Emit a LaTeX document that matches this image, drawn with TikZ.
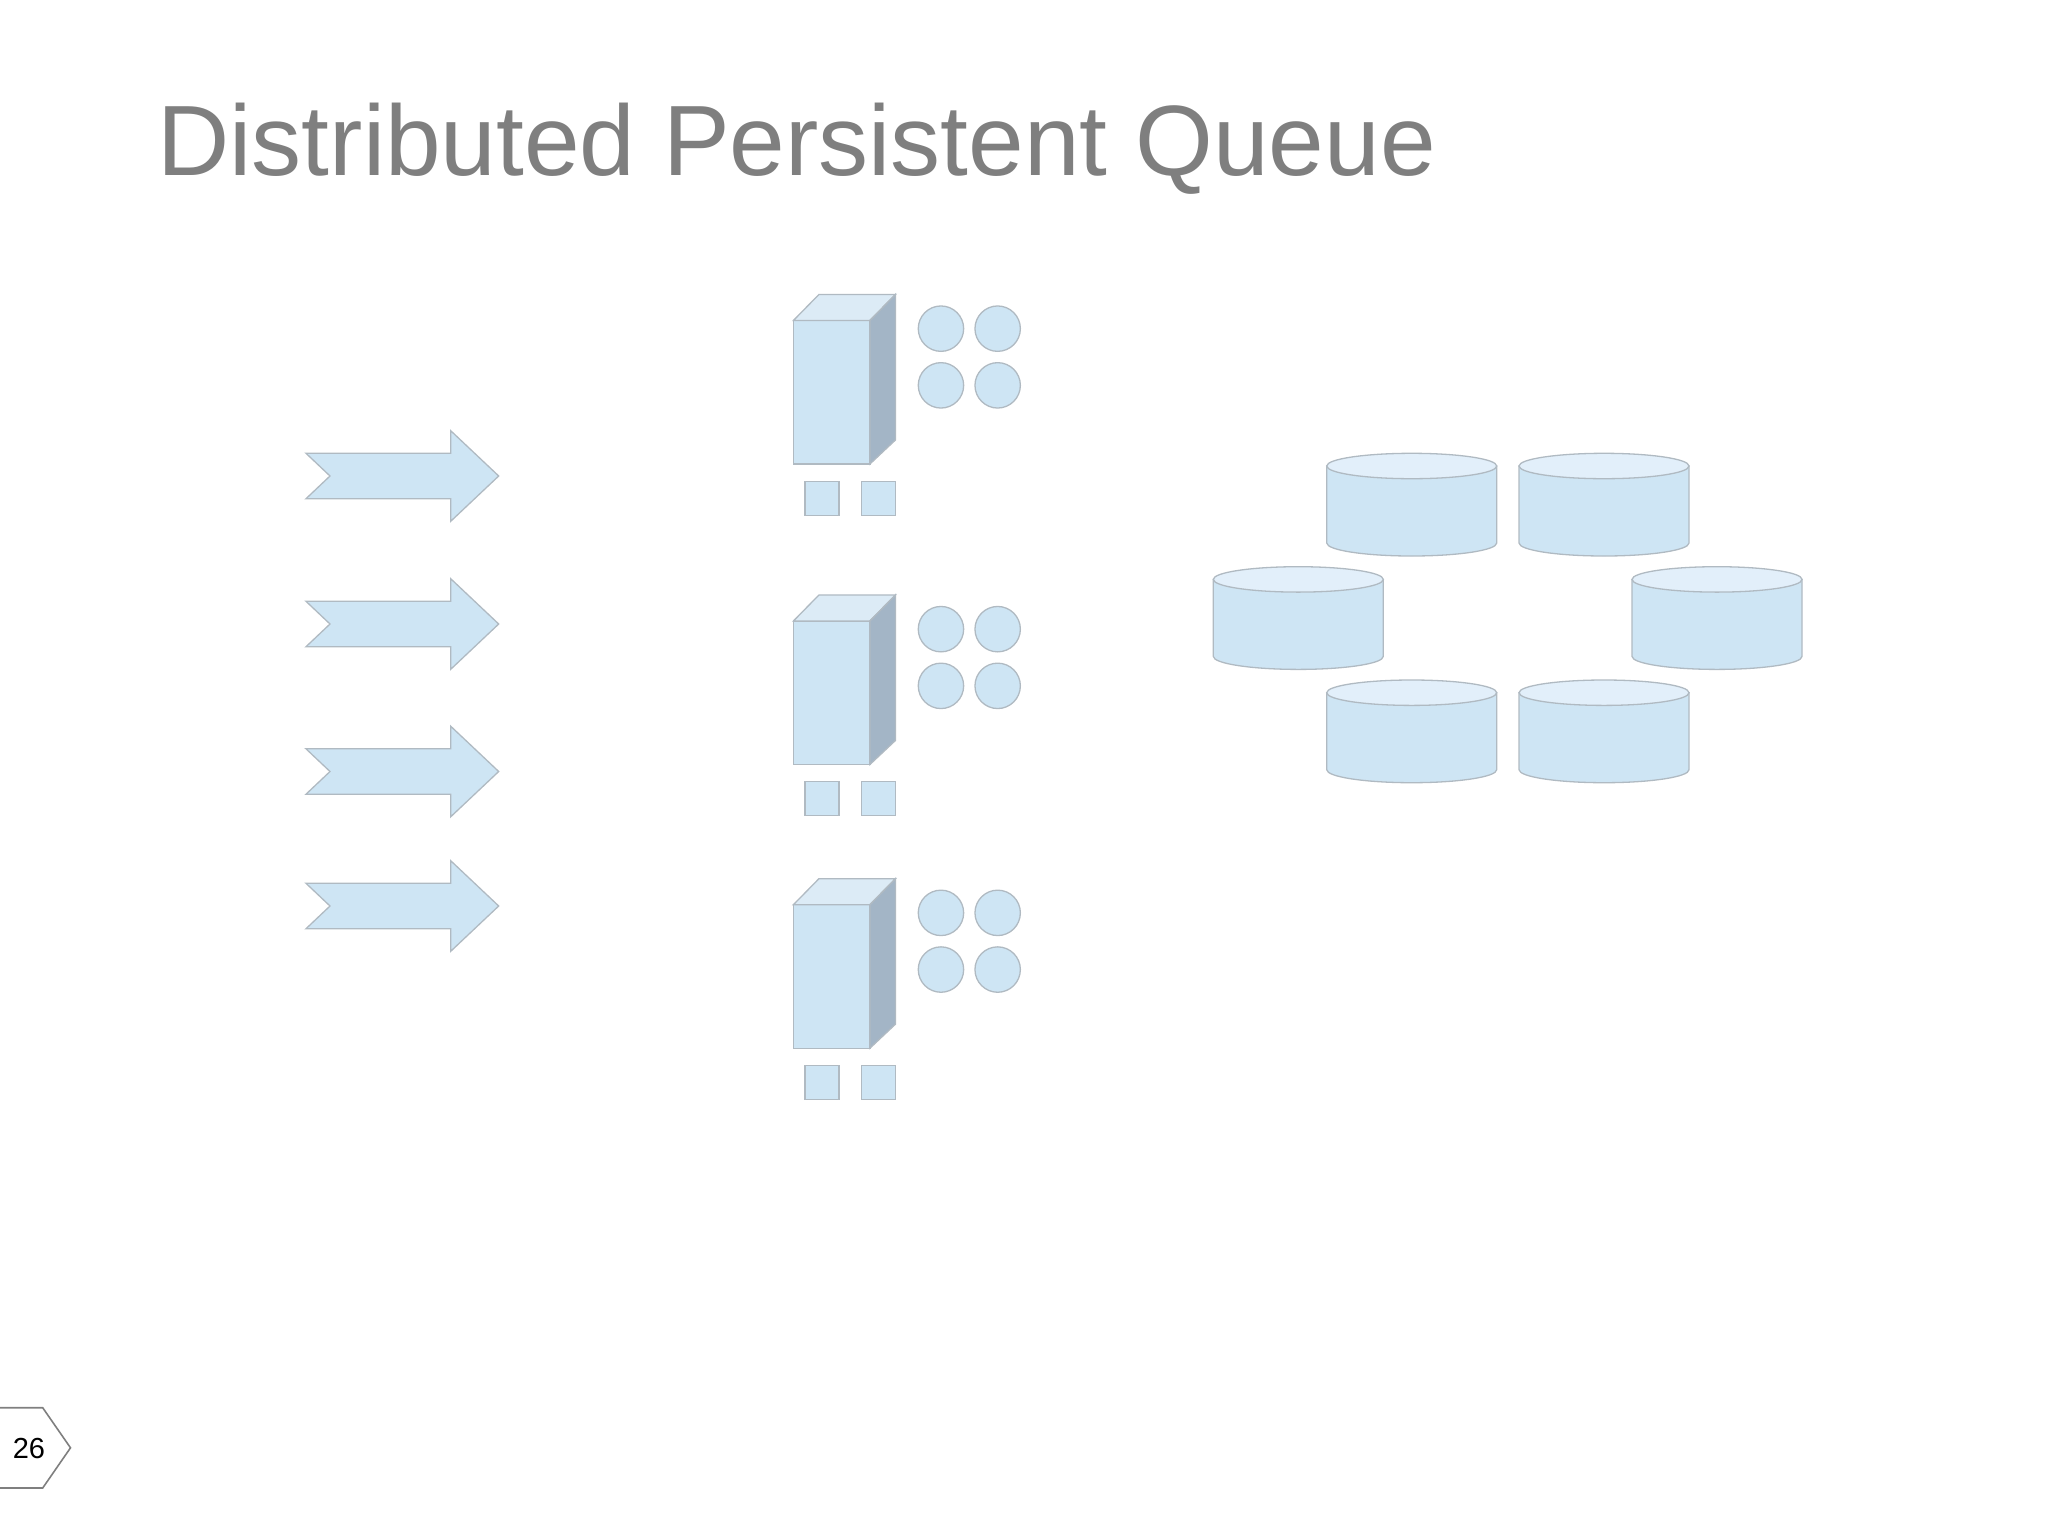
\documentclass[tikz,border=0pt]{standalone}
\usepackage{fontspec}
\setmainfont{Liberation Sans}
\usetikzlibrary{positioning,calc}
\definecolor{myblue}{RGB}{206,229,244}
\definecolor{mybluetop}{RGB}{220,235,246}
\definecolor{mybluelid}{RGB}{226,239,250}
\definecolor{myblueside}{RGB}{163,181,198}
\definecolor{myedge}{RGB}{176,186,194}
\definecolor{mygray}{RGB}{127,127,127}
\tikzset{
tikzslidepic/.style={
  x=.5pt,y=-.5pt
    ,inner sep=0pt
    ,outer sep=0pt
    ,node distance=5.65pt
    ,line join=miter
}
,title/.style={ anchor=base west, font=\fontsize{50pt}{54pt}\selectfont, color=mygray}
,bounder/.style={draw=myedge,line width=.65pt}
,front/.style={bounder,fill=myblue,minimum width=38.25pt,minimum height=71.75pt}
,lid/.style={bounder,fill=mybluetop}
,flank/.style={bounder,fill=myblueside}
,core/.style={bounder,fill=myblue,circle,minimum size=22.7pt}
,port/.style={bounder,fill=myblue,minimum size=17pt}
,disk/.style={bounder,fill=myblue}
,disklid/.style={bounder,fill=mybluelid}
,flow/.style={bounder,fill=myblue}
,pagebox/.style={draw=mygray,line width=.8pt}
}

\begin{document}
\begin{tikzpicture}[tikzslidepic]
  \useasboundingbox (0,0) rectangle (2048,1536);
  \node[title] (heading) at (157.5,175) {Distributed Persistent Queue};
  % producers
  \foreach \nm/\ay in {a/476,b/624,c/771.5,d/906}{
    \coordinate (arrow\nm) at (306,\ay);
    \draw[flow] (arrow\nm) ++(0,-22.7) -- ++(144.7,0) -- ++(0,-22.6) -- ++(48,45.3)
      -- ++(-48,45.3) -- ++(0,-22.6) -- ++(-144.7,0) -- ++(24,-22.7) -- cycle;
  }
  % servers
  \foreach \nm/\sy in {a/392.2,b/692.7,c/976.4}{
    \node[front] (srv\nm) at (831.7,\sy) {};
    \draw[lid] (srv\nm.north west) -- ++(25.5,-26) -- ++(76.5,0)
      -- (srv\nm.north east) -- cycle;
    \draw[flank] (srv\nm.north east) -- ++(25.5,-26) -- ++(0,145.5)
      -- (srv\nm.south east) -- cycle;
    \node[core] (core\nm i) at ($(srv\nm.north east)+(71,8.2)$) {};
    \node[core,right=of core\nm i] (core\nm ii) {};
    \node[core,below=of core\nm i] (core\nm iii) {};
    \node[core,right=of core\nm iii] (core\nm iv) {};
    \node[port,anchor=north west] (port\nm i) at ($(srv\nm.south west)+(11.5,17.3)$) {};
    \node[port,right=11.35pt of port\nm i] (port\nm ii) {};
  }
  % storage
  \foreach \nm/\dx/\dy in {a/1326.7/453.3,b/1519/453.3,c/1213.3/566.7,d/1632/566.7,e/1326.7/680,f/1519/680}{
    \coordinate (disk\nm) at (\dx,\dy);
    \draw[disk] (disk\nm) ++(0,12.7) -- ++(0,77) arc[start angle=180,end angle=0,x radius=85,y radius=13]
      -- ++(0,-77) -- cycle;
    \draw[disklid] (disk\nm) ++(85,12.7) ellipse[x radius=85,y radius=12.7];
  }
  % slide number
  \node (pagenum) at (29,1448) {\fontsize{14.5pt}{16pt}\selectfont 26};
  \draw[pagebox] (-2,1407.7) -- (42.7,1407.7) -- (70.5,1447.8) -- (42.7,1488) -- (-2,1488);
\end{tikzpicture}
\end{document}
